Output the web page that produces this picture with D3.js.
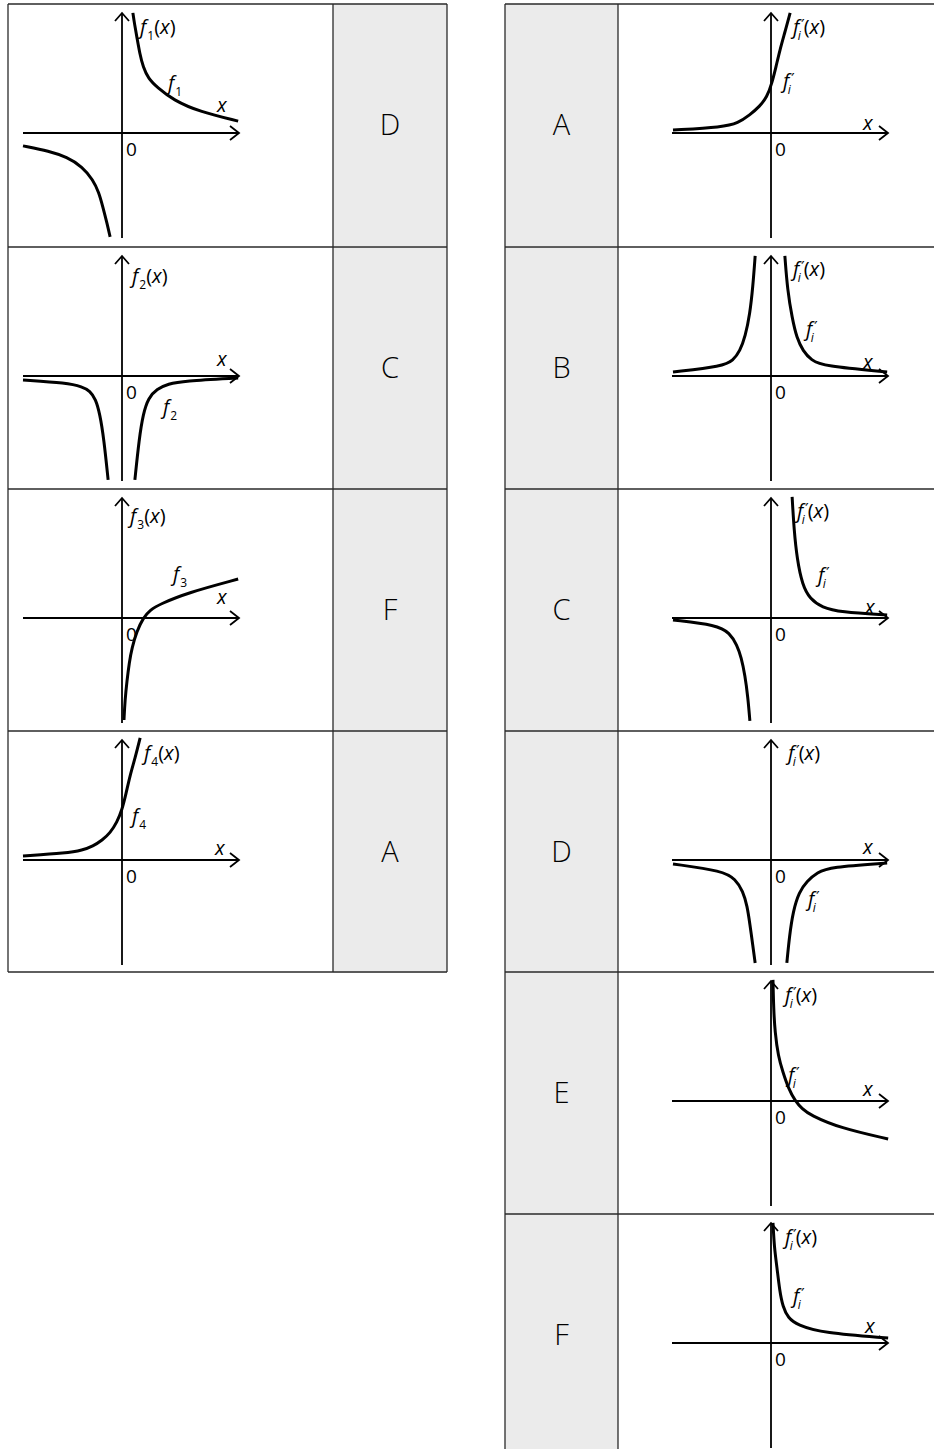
<!DOCTYPE html>
<html><head><meta charset="utf-8">
<script src="https://cdn.jsdelivr.net/npm/d3@7"></script>
<style>
body{margin:0;background:#fff}
svg{display:block}
text{font-family:"Open Sans","Liberation Sans",sans-serif;font-weight:300;fill:#000}
text.lab{font-weight:400}
</style>
</head><body>
<svg id="c" width="934" height="1449"></svg>
<script>
// ---------- data ----------
// answer letters in the left table (matching f1..f4)
const leftAnswers = ["D", "C", "F", "A"];
// letters of the derivative graphs in the right table
const rightLetters = ["A", "B", "C", "D", "E", "F"];
// function indices for the left table
const leftNames = ["1", "2", "3", "4"];

// curve points [x, y] in graph units (one array per branch)
const curveF1 = [
  [[-3.0, -0.39], [-2.2, -0.55], [-1.67, -0.73], [-1.2, -1.02], [-0.88, -1.42], [-0.7, -1.8], [-0.58, -2.24], [-0.45, -2.75], [-0.36, -3.15]],
  [[0.33, 3.64], [0.38, 3.3], [0.45, 2.91], [0.54, 2.4], [0.64, 2.0], [0.8, 1.65], [1.06, 1.39], [1.55, 1.0], [2.36, 0.64], [3.52, 0.36]]
];
const curveF2 = [
  [[-3.0, -0.12], [-1.67, -0.21], [-1.2, -0.33], [-0.97, -0.45], [-0.8, -0.7], [-0.67, -1.15], [-0.55, -1.9], [-0.42, -3.15]],
  [[0.39, -3.15], [0.52, -1.9], [0.64, -1.15], [0.8, -0.66], [1.06, -0.39], [1.4, -0.24], [1.85, -0.15], [3.52, -0.06]]
];
const curveF3 = [
  [[0.06, -3.09], [0.09, -2.5], [0.15, -1.91], [0.22, -1.35], [0.30, -0.91], [0.45, -0.4], [0.64, 0.0], [0.85, 0.24], [1.15, 0.42], [1.97, 0.76], [3.52, 1.18]]
];
const curveF4 = [
  [[-3.0, 0.12], [-1.67, 0.21], [-1.2, 0.3], [-0.88, 0.42], [-0.6, 0.6], [-0.36, 0.82], [-0.15, 1.15], [0.0, 1.52], [0.12, 2.0], [0.24, 2.55], [0.4, 3.1], [0.55, 3.7]]
];
const curveA = [
  [[-2.97, 0.09], [-1.45, 0.18], [-1.0, 0.3], [-0.64, 0.55], [-0.35, 0.8], [-0.12, 1.09], [0.03, 1.52], [0.15, 2.0], [0.27, 2.52], [0.42, 3.05], [0.58, 3.64]]
];
const curveB = [
  [[-2.97, 0.12], [-1.45, 0.30], [-1.15, 0.47], [-0.94, 0.76], [-0.78, 1.2], [-0.64, 1.88], [-0.55, 2.7], [-0.48, 3.64]],
  [[0.42, 3.64], [0.5, 2.6], [0.64, 1.76], [0.78, 1.15], [0.97, 0.76], [1.22, 0.48], [1.58, 0.30], [3.52, 0.12]]
];
const curveC = [
  [[-2.97, -0.06], [-1.64, -0.21], [-1.25, -0.45], [-1.03, -0.82], [-0.9, -1.2], [-0.79, -1.73], [-0.7, -2.4], [-0.64, -3.12]],
  [[0.64, 3.67], [0.7, 2.65], [0.79, 1.79], [0.95, 1.0], [1.18, 0.58], [1.55, 0.32], [2.09, 0.18], [3.52, 0.09]]
];
const curveD = [
  [[-2.97, -0.12], [-1.45, -0.33], [-1.08, -0.58], [-0.85, -0.94], [-0.72, -1.4], [-0.64, -1.94], [-0.55, -2.6], [-0.48, -3.12]],
  [[0.48, -3.12], [0.56, -2.3], [0.67, -1.55], [0.85, -0.97], [1.09, -0.64], [1.4, -0.38], [1.79, -0.21], [3.52, -0.09]]
];
const curveE = [
  [[0.06, 3.67], [0.08, 2.8], [0.12, 2.09], [0.22, 1.35], [0.36, 0.88], [0.52, 0.4], [0.73, 0.0], [0.95, -0.24], [1.18, -0.42], [2.09, -0.82], [3.55, -1.15]]
];
const curveF = [
  [[0.06, 3.64], [0.1, 2.9], [0.18, 2.30], [0.26, 1.6], [0.36, 1.09], [0.52, 0.76], [0.79, 0.55], [1.58, 0.30], [3.55, 0.15]]
];
const leftCurves = [curveF1, curveF2, curveF3, curveF4];
const rightCurves = [curveA, curveB, curveC, curveD, curveE, curveF];

// ---------- layout ----------
const rowH = 242;
const leftRowTops = [4, 247, 489, 731];
const leftBottom = 972;
const rightRowTops = [4, 247, 489, 731, 972, 1214];
const rightBottom = 1456;
const L = {x0: 8, xDiv: 333, x1: 447, ox: 122};
const R = {x0: 505, xDiv: 618, x1: 945, ox: 771};
const unit = 33;
// label offsets: fx,fy = axis label rel. to (ox,rowTop); cx,cy = curve label rel. origin; xx,xy = "x" rel. origin
const leftLabelPos = [
  {fx: 18, fy: 30, cx: 46, cy: -43, xx: 95, xy: -21},
  {fx: 10, fy: 36, cx: 41, cy: 38, xx: 95, xy: -10},
  {fx: 8, fy: 34, cx: 51, cy: -37, xx: 95, xy: -14},
  {fx: 22, fy: 29, cx: 10, cy: -37, xx: 93, xy: -5}
];
const rightLabelPos = [
  {fx: 22, fy: 30, cx: 12, cy: -45, xx: 92, xy: -3},
  {fx: 22, fy: 29, cx: 35, cy: -40, xx: 92, xy: -7},
  {fx: 26, fy: 29, cx: 47, cy: -36, xx: 94, xy: -4},
  {fx: 17, fy: 29, cx: 37, cy: 46, xx: 92, xy: -6},
  {fx: 14, fy: 30, cx: 17, cy: -19, xx: 92, xy: -5},
  {fx: 14, fy: 30, cx: 22, cy: -40, xx: 94, xy: -10}
];

const svg = d3.select("#c");
const gFill = svg.append("g");
const gGraph = svg.append("g");
const gBorder = svg.append("g");
const gray = "#ebebeb";
const ink = "#000";

function fLabel(g, x, y, sub, prime, withArg) {
  const t = g.append("text").attr("class", "lab").attr("x", x).attr("y", y).attr("font-size", 20);
  t.append("tspan").attr("font-style", "italic").text("f");
  if (prime) {
    t.append("tspan").attr("font-family", "DejaVu Sans").attr("font-size", 15).attr("dx", 2).attr("dy", -3).text("′");
    t.append("tspan").attr("font-style", "italic").attr("font-size", 12).attr("dx", -7).attr("dy", 9).text("i");
    if (withArg) t.append("tspan").attr("dy", -6).attr("dx", 3).text("(");
  } else {
    t.append("tspan").attr("font-size", 12).attr("dx", 1).attr("dy", 6).text(sub);
    if (withArg) t.append("tspan").attr("dy", -6).text("(");
  }
  if (withArg) {
    t.append("tspan").attr("font-style", "italic").text("x");
    t.append("tspan").text(")");
  }
}

function drawGraph(ox, rowTop, branches, lab, sub, prime) {
  const oy = rowTop + 129;
  const x = d3.scaleLinear().domain([0, 1]).range([ox, ox + unit]);
  const y = d3.scaleLinear().domain([0, 1]).range([oy, oy - unit]);
  const g = gGraph.append("g");
  const xs = ox - 99, xe = ox + 117;
  const yt = rowTop + 9, yb = rowTop + 234;
  // axes
  g.append("line").attr("x1", xs).attr("x2", xe).attr("y1", oy).attr("y2", oy)
    .attr("stroke", ink).attr("stroke-width", 1.8);
  g.append("line").attr("x1", ox).attr("x2", ox).attr("y1", yt).attr("y2", yb)
    .attr("stroke", ink).attr("stroke-width", 1.8);
  g.append("path").attr("d", `M${xe - 9},${oy - 7}L${xe},${oy}L${xe - 9},${oy + 7}`)
    .attr("fill", "none").attr("stroke", ink).attr("stroke-width", 1.8);
  g.append("path").attr("d", `M${ox - 7},${yt + 8}L${ox},${yt}L${ox + 7},${yt + 8}`)
    .attr("fill", "none").attr("stroke", ink).attr("stroke-width", 1.8);
  // curves
  const line = d3.line().x(d => x(d[0])).y(d => y(d[1])).curve(d3.curveBasis);
  g.selectAll("path.curve").data(branches).join("path").attr("class", "curve")
    .attr("d", line).attr("fill", "none").attr("stroke", ink).attr("stroke-width", 3)
    .attr("stroke-linecap", "butt");
  // labels
  fLabel(g, ox + lab.fx, rowTop + lab.fy, sub, prime, true);
  fLabel(g, ox + lab.cx, oy + lab.cy, sub, prime, false);
  g.append("text").attr("class", "lab").attr("x", ox + lab.xx).attr("y", oy + lab.xy).attr("font-size", 20)
    .attr("font-style", "italic").text("x");
  g.append("text").attr("class", "lab").attr("x", ox + 4).attr("y", oy + 23).attr("font-size", 19).text("0");
}

// left table
leftRowTops.forEach((top, i) => {
  gFill.append("rect").attr("x", L.xDiv).attr("y", top).attr("width", L.x1 - L.xDiv).attr("height", rowH).attr("fill", gray);
  drawGraph(L.ox, top, leftCurves[i], leftLabelPos[i], leftNames[i], false);
  svg.append("text").attr("x", (L.xDiv + L.x1) / 2).attr("y", top + rowH / 2 + 10)
    .attr("text-anchor", "middle").attr("font-size", 29).text(leftAnswers[i]);
});
// right table
rightRowTops.forEach((top, i) => {
  gFill.append("rect").attr("x", R.x0).attr("y", top).attr("width", R.xDiv - R.x0).attr("height", rowH).attr("fill", gray);
  drawGraph(R.ox, top, rightCurves[i], rightLabelPos[i], "i", true);
  svg.append("text").attr("x", (R.x0 + R.xDiv) / 2).attr("y", top + rowH / 2 + 10)
    .attr("text-anchor", "middle").attr("font-size", 29).text(rightLetters[i]);
});

// borders
function borders(T, tops, bottom) {
  const b = gBorder.append("g").attr("stroke", "#2a2a2a").attr("stroke-width", 1.3).attr("fill", "none");
  [...tops, bottom].forEach(yv => b.append("line").attr("x1", T.x0).attr("x2", T.x1).attr("y1", yv).attr("y2", yv));
  [T.x0, T.xDiv, T.x1].forEach(xv => b.append("line").attr("x1", xv).attr("x2", xv).attr("y1", tops[0]).attr("y2", bottom));
}
borders(L, leftRowTops, leftBottom);
borders(R, rightRowTops, rightBottom);
</script>
</body></html>
